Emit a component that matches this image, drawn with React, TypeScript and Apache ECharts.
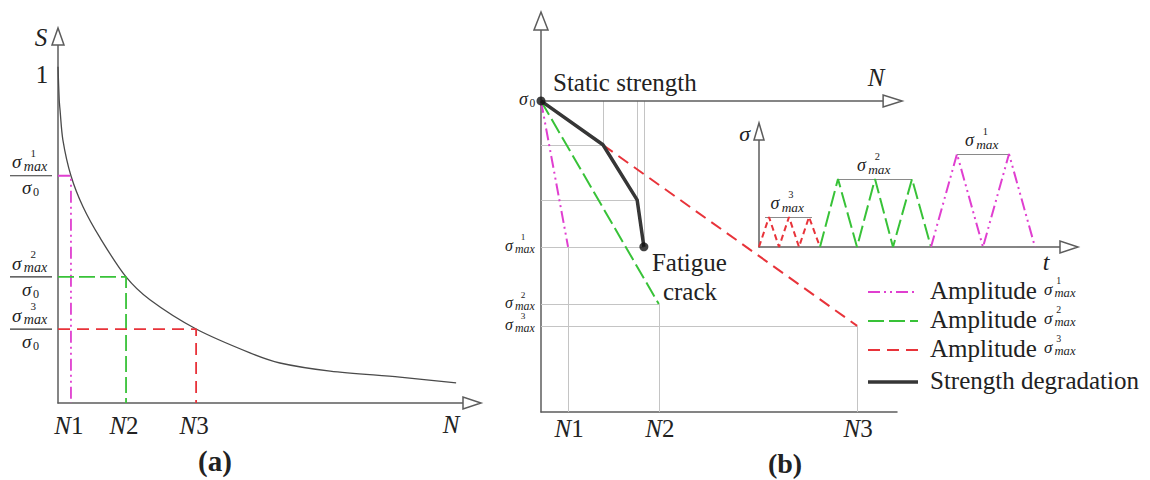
import React, { useEffect, useRef } from "react";
import * as echarts from "echarts";

// ---------- Panel (a): normalised S–N curve ----------
const curveN = [0, 0.03, 0.05, 0.12, 0.32, 0.62, 1.04, 1.68, 2.27, 3.41, 4.74, 5.48, 6.72, 8.44, 9.83];
const curveS = [1.0, 0.902, 0.872, 0.783, 0.676, 0.583, 0.491, 0.375, 0.307, 0.22, 0.149, 0.119, 0.095, 0.077, 0.06];
const levelN = [0.32, 1.68, 3.41]; // N1, N2, N3
const levelS = [0.676, 0.375, 0.22]; // σ^k_max / σ0
const levelTags = ["1", "2", "3"];

// ---------- Panel (b): residual strength ----------
const failN = [0.76, 3.31, 8.88]; // N1, N2, N3
const sigmaMaxB = [0.531, 0.347, 0.277];
const degN = [0, 1.74, 2.7, 2.89];
const degS = [1, 0.859, 0.682, 0.531];
const nAxisEnd = 9.61;

// ---------- Inset: loading histories ----------
const t3 = [0, 1, 2, 3, 4, 5, 6.1];
const a3 = [0, 3, 0, 3, 0, 3, 0];
const t2 = [6.1, 7.9, 9.8, 11.6, 13.4, 15.3, 17.2];
const a2 = [0, 6.8, 0, 6.8, 0, 6.8, 0];
const t1 = [17.2, 19.8, 22.4, 25.0, 27.6];
const a1 = [0, 9.3, 0, 9.3, 0];
const peakSpan = [[0.6, 5.3], [7.9, 15.3], [19.8, 25.0]]; // σ3, σ2, σ1
const peakA = [3, 6.8, 9.3];

const legendLabels = ["Amplitude", "Amplitude", "Amplitude", "Strength degradation"];
const legendSup = ["1", "2", "3", ""];

const SERIF = "'Liberation Serif', serif";
const INK = "#222";
const AX = "#5c5c5c";
const GUIDE = "#c4c4c4";
const PINK = "#e03fd0";
const GREEN = "#38c238";
const RED = "#e8333a";
const BLACK = "#363636";
const dashPink = [12, 4, 2, 4, 2, 4];
const dashGreen = [16, 5];
const dashRed = [12, 7];
const colors = [PINK, GREEN, RED];
const dashes = [dashPink, dashGreen, dashRed];

const zip = (xs: number[], ys: number[]) => xs.map((x, i) => [x, ys[i]]);

const axis = (gridIndex: number, min: number, max: number) => ({
  type: "value",
  gridIndex,
  min,
  max,
  axisLine: { show: true, onZero: false, lineStyle: { color: AX, width: 1.5 } },
  axisTick: { show: false },
  axisLabel: { show: false },
  splitLine: { show: false },
});

const T = (x: number, y: number, text: string, size: number, o: any = {}) => ({
  type: "text",
  x,
  y,
  silent: true,
  style: {
    text,
    fill: o.fill || INK,
    fontSize: size,
    fontFamily: SERIF,
    fontStyle: o.italic ? "italic" : "normal",
    fontWeight: o.bold ? "bold" : "normal",
    align: o.align || "left",
    verticalAlign: "middle",
    textAlign: o.align || "left",
    textVerticalAlign: "middle",
    lineHeight: o.lineHeight,
    rich: o.rich,
  },
});

// σ with stacked superscript / subscript; (x, y) = left edge / centre of σ glyph
const SIG = (x: number, y: number, S: number, sup: string, sub: string, o: any = {}) => {
  const adv = 0.62 * S;
  const children: any[] = [T(0, 0, "σ", S, { italic: true })];
  if (sup) {
    children.push(
      T(adv, -0.1 * S, `{a|${sup}}\n{b|${sub}}`, 0.58 * S, {
        rich: {
          a: {
            fontSize: 0.58 * S,
            fontFamily: SERIF,
            fill: INK,
            lineHeight: 0.64 * S,
            padding: [0, 0, 0, (o.supPad ?? 0.36) * S],
          },
          b: { fontSize: 0.74 * S, fontFamily: SERIF, fontStyle: "italic", fill: INK, lineHeight: 0.78 * S },
        },
      })
    );
  } else if (sub) {
    children.push(T(adv - 0.04 * S, 0.24 * S, sub, 0.64 * S));
  }
  return { type: "group", x, y: y - 0.1 * S, children };
};

const option: any = {
  animation: false,
  backgroundColor: "#fff",
  grid: [
    { left: 58, top: 45, width: 405, height: 358, containLabel: false, outerBoundsMode: "none" },
    { left: 541, top: 30, width: 356, height: 382, containLabel: false, outerBoundsMode: "none" },
    { left: 759, top: 140, width: 301, height: 107, containLabel: false, outerBoundsMode: "none" },
  ],
  xAxis: [axis(0, 0, 10), axis(1, 0, 10), axis(2, 0, 30.1)],
  yAxis: [axis(0, 0, 1.065), axis(1, 0, 1.228), axis(2, 0, 10.7)],
  series: [
    // ---- panel (a)
    {
      type: "line",
      name: "S-N curve",
      xAxisIndex: 0,
      yAxisIndex: 0,
      data: zip(curveN, curveS),
      smooth: 0.3,
      symbol: "none",
      lineStyle: { color: "#4a4a4a", width: 1.3 },
    },
    ...levelN.map((n, k) => ({
      type: "line",
      name: "a-level-" + levelTags[k],
      xAxisIndex: 0,
      yAxisIndex: 0,
      data: [[0, levelS[k]], [n, levelS[k]], [n, 0]],
      symbol: "none",
      lineStyle: { color: colors[k], width: 1.8, type: dashes[k] },
    })),
    // ---- panel (b) guides
    {
      type: "lines",
      coordinateSystem: "cartesian2d",
      xAxisIndex: 1,
      yAxisIndex: 1,
      silent: true,
      lineStyle: { color: GUIDE, width: 1, opacity: 1, curveness: 0 },
      data: [
        ...failN.map((n, k) => ({ coords: [[n, 0], [n, sigmaMaxB[k]]] })),
        ...failN.map((n, k) => ({
          coords: [[0, sigmaMaxB[k]], [k === 0 ? degN[3] : n, sigmaMaxB[k]]],
        })),
        ...degN.slice(1).map((n, i) => ({ coords: [[n, 1], [n, degS[i + 1]]] })),
        ...degN.slice(1, 3).map((n, i) => ({ coords: [[0, degS[i + 1]], [n, degS[i + 1]]] })),
      ],
    },
    {
      type: "line",
      name: "N axis",
      xAxisIndex: 1,
      yAxisIndex: 1,
      data: [[0, 1], [nAxisEnd, 1]],
      symbol: "none",
      lineStyle: { color: AX, width: 1.5 },
    },
    ...failN.map((n, k) => ({
      type: "line",
      name: "Amplitude σ" + levelTags[k],
      xAxisIndex: 1,
      yAxisIndex: 1,
      data: [[0, 1], [n, sigmaMaxB[k]]],
      symbol: "none",
      lineStyle: { color: colors[k], width: 2, type: dashes[k] },
    })),
    {
      type: "line",
      name: "Strength degradation",
      xAxisIndex: 1,
      yAxisIndex: 1,
      data: zip(degN, degS),
      symbol: "none",
      lineStyle: { color: BLACK, width: 3.5 },
      z: 5,
    },
    {
      type: "scatter",
      name: "points",
      xAxisIndex: 1,
      yAxisIndex: 1,
      data: [[degN[0], degS[0]], [degN[3], degS[3]]],
      symbolSize: 9,
      itemStyle: { color: "#111" },
      z: 6,
    },
    // ---- inset
    {
      type: "lines",
      coordinateSystem: "cartesian2d",
      xAxisIndex: 2,
      yAxisIndex: 2,
      silent: true,
      lineStyle: { color: "#8a8a8a", width: 1, opacity: 1, curveness: 0 },
      data: peakSpan.map((s, k) => ({ coords: [[s[0], peakA[k]], [s[1], peakA[k]]] })),
    },
    {
      type: "line",
      name: "wave3",
      xAxisIndex: 2,
      yAxisIndex: 2,
      data: zip(t3, a3),
      symbol: "none",
      lineStyle: { color: RED, width: 2, type: [6, 4] },
    },
    {
      type: "line",
      name: "wave2",
      xAxisIndex: 2,
      yAxisIndex: 2,
      data: zip(t2, a2),
      symbol: "none",
      lineStyle: { color: GREEN, width: 2, type: [16, 5] },
    },
    {
      type: "line",
      name: "wave1",
      xAxisIndex: 2,
      yAxisIndex: 2,
      data: zip(t1, a1),
      symbol: "none",
      lineStyle: { color: PINK, width: 2, type: dashPink },
    },
  ],
};

function buildGraphic(chart: any) {
  const P = (g: number, v: number[]) => chart.convertToPixel({ gridIndex: g }, v) as number[];
  const els: any[] = [];
  const arrowStyle = { fill: "#fff", stroke: AX, lineWidth: 1.5 };
  const up = (p: number[], h: number, w: number) => ({
    type: "polygon",
    z: 10,
    shape: { points: [[p[0] - w, p[1]], [p[0] + w, p[1]], [p[0], p[1] - h]] },
    style: arrowStyle,
  });
  const right = (p: number[], h: number, w: number) => ({
    type: "polygon",
    z: 10,
    shape: { points: [[p[0], p[1] - w], [p[0], p[1] + w], [p[0] + h, p[1]]] },
    style: arrowStyle,
  });
  const nRich = { i: { fontStyle: "italic", fontSize: 25, fontFamily: SERIF, fill: INK } };

  // ---- panel (a)
  const aTop = P(0, [0, 1.065]);
  const aEnd = P(0, [10, 0]);
  els.push(up(aTop, 17, 6), right(aEnd, 18, 6));
  els.push(T(aTop[0] - 17, aTop[1] - 8, "S", 25, { italic: true, align: "center" }));
  const one = P(0, [0, 1]);
  els.push(T(aTop[0] - 16, one[1] + 8, "1", 25, { align: "center" }));
  levelS.forEach((s, k) => {
    const yb = P(0, [0, s])[1];
    els.push({
      type: "line",
      shape: { x1: 10, y1: yb, x2: 52, y2: yb },
      style: { stroke: "#333", lineWidth: 1.2 },
    });
    els.push(SIG(12, yb - 12, 19, levelTags[k], "max"));
    els.push(SIG(22, yb + 14, 19, "", "0"));
    const xn = P(0, [levelN[k], 0])[0];
    els.push(T(xn - 2, 425, "{i|N}" + levelTags[k], 25, { align: "center", rich: nRich }));
  });
  els.push(T(aEnd[0] - 12, aEnd[1] + 21, "N", 25, { italic: true, align: "center" }));
  els.push(T(215, 461, "(a)", 29, { bold: true, align: "center" }));

  // ---- panel (b)
  const bTop = P(1, [0, 1.228]);
  const s0 = P(1, [0, 1]);
  const nEnd = P(1, [nAxisEnd, 1]);
  els.push(up(bTop, 18, 7), right(nEnd, 19, 6));
  els.push(T(s0[0] + 12, s0[1] - 18, "Static strength", 25));
  els.push(SIG(s0[0] - 22, s0[1], 18, "", "0"));
  sigmaMaxB.forEach((s, k) => {
    const y = P(1, [0, s])[1];
    els.push(SIG(505, y, 16, levelTags[k], "max"));
    const xn = P(1, [failN[k], 0])[0];
    els.push(T(xn + 1, 428, "{i|N}" + levelTags[k], 25, { align: "center", rich: nRich }));
  });
  const crack = P(1, [degN[3], degS[3]]);
  els.push(T(crack[0] + 8, crack[1] + 16, "Fatigue", 25));
  els.push(T(crack[0] + 19, crack[1] + 45, "crack", 25));
  els.push(T(nEnd[0] - 7, nEnd[1] - 23, "N", 25, { italic: true, align: "center" }));
  els.push(T(785, 463, "(b)", 28, { bold: true, align: "center" }));

  // ---- inset
  const iTop = P(2, [0, 10.7]);
  const iEnd = P(2, [30.1, 0]);
  els.push(up(iTop, 17, 5), right(iEnd, 18, 6));
  els.push(T(iTop[0] - 9, iTop[1] - 7, "σ", 22, { italic: true, align: "right" }));
  els.push(T(iEnd[0] - 14, iEnd[1] + 15, "t", 24, { italic: true, align: "center" }));
  const supOrder = ["3", "2", "1"];
  peakSpan.forEach((sp, k) => {
    const pa = P(2, [sp[0], peakA[k]]);
    const pb = P(2, [sp[1], peakA[k]]);
    const cx = (pa[0] + pb[0]) / 2;
    els.push(SIG(cx - 18, pa[1] - 12, 18, supOrder[k], "max"));
  });

  // ---- legend
  const rows = [292, 321, 350, 382];
  rows.forEach((y, i) => {
    const isBlack = i === 3;
    els.push({
      type: "line",
      shape: { x1: 868, y1: y, x2: 918, y2: y },
      style: {
        stroke: isBlack ? BLACK : colors[i],
        lineWidth: isBlack ? 3.5 : 2,
        lineDash: isBlack ? null : dashes[i],
      },
    });
    els.push(T(930, y - 2, legendLabels[i], 25));
    if (legendSup[i]) els.push(SIG(1044, y - 1, 17, legendSup[i], "max", { supPad: 0.1 }));
  });
  return els;
}

export default function App() {
  const ref = useRef<HTMLDivElement>(null);
  useEffect(() => {
    const chart = echarts.init(ref.current!, null, { renderer: "svg" });
    chart.setOption(option);
    chart.setOption({ graphic: buildGraphic(chart) });
    return () => chart.dispose();
  }, []);
  return (
    <div
      ref={ref}
      style={{ position: "absolute", left: 0, top: 0, width: 1150, height: 480, background: "#fff" }}
    />
  );
}
